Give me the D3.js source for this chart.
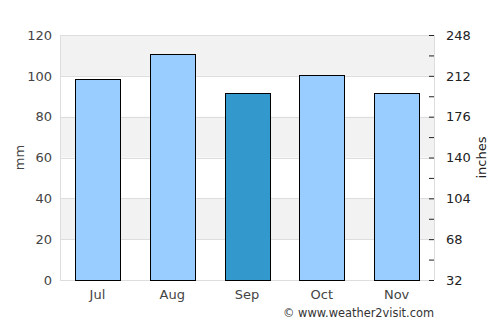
<!DOCTYPE html>
<html>
<head>
<meta charset="utf-8">
<script src="https://cdn.jsdelivr.net/npm/d3@7"></script>
<style>
  body { margin: 0; background: #fff; }
  svg { display: block; }
  svg text { font-family: "DejaVu Sans", sans-serif; }
</style>
</head>
<body>
<svg id="chart" width="500" height="325"></svg>
<script>
// chart data
const months = ["Jul", "Aug", "Sep", "Oct", "Nov"];
const rainfallMm = [98.5, 110.5, 91.5, 100.5, 91.5];
const highlightMonth = "Sep";
const leftTicks = [0, 20, 40, 60, 80, 100, 120];
const rightTicks = [32, 68, 104, 140, 176, 212, 248];
const rightMinorTicks = [50, 86, 122, 158, 194, 230];

const width = 500, height = 325;
const margin = {top: 35, right: 66, bottom: 45, left: 60};
const innerW = width - margin.left - margin.right;
const innerH = height - margin.top - margin.bottom;

const svg = d3.select("#chart");
const g = svg.append("g").attr("transform", `translate(${margin.left},${margin.top})`);

const x = d3.scaleBand().domain(months).range([0, innerW]).paddingInner(0.4).paddingOuter(0.2);
const y = d3.scaleLinear().domain([0, 120]).range([innerH, 0]);
const y2 = d3.scaleLinear().domain([32, 248]).range([innerH, 0]);

// alternating bands
const bands = d3.pairs(leftTicks).filter((_, i) => i % 2 === 1);
g.selectAll("rect.band")
  .data(bands)
  .enter().append("rect")
  .attr("class", "band")
  .attr("x", 0)
  .attr("width", innerW)
  .attr("y", d => y(d[1]))
  .attr("height", d => y(d[0]) - y(d[1]))
  .attr("fill", "#f2f2f2");

// grid lines
g.selectAll("line.grid")
  .data(leftTicks)
  .enter().append("line")
  .attr("class", "grid")
  .attr("x1", 0).attr("x2", innerW)
  .attr("y1", d => Math.round(y(d)) + 0.5)
  .attr("y2", d => Math.round(y(d)) + 0.5)
  .attr("stroke", "#dddddd");

// plot frame sides
g.append("line").attr("x1", 0.5).attr("x2", 0.5).attr("y1", 0).attr("y2", innerH).attr("stroke", "#dddddd");
g.append("line").attr("x1", innerW + 0.5).attr("x2", innerW + 0.5).attr("y1", 0).attr("y2", innerH).attr("stroke", "#dddddd");

// bars
g.selectAll("rect.bar")
  .data(months.map((m, i) => ({month: m, value: rainfallMm[i]})))
  .enter().append("rect")
  .attr("class", "bar")
  .attr("x", d => Math.round(x(d.month)) + 0.5)
  .attr("y", d => Math.round(y(d.value)) + 0.5)
  .attr("width", Math.round(x.bandwidth()))
  .attr("height", d => Math.round(y(0)) - Math.round(y(d.value)))
  .attr("fill", d => d.month === highlightMonth ? "#3399cc" : "#99ccff")
  .attr("stroke", "#000")
  .attr("stroke-width", 1);

// left axis
const yAxis = g.append("g")
  .call(d3.axisLeft(y).tickValues(leftTicks).tickSize(0).tickPadding(8))
  .attr("font-family", null);
yAxis.select(".domain").remove();
yAxis.selectAll("text").attr("font-size", 13).attr("fill", "#444");

// right axis
const y2Axis = g.append("g")
  .attr("transform", `translate(${innerW},0)`)
  .call(d3.axisRight(y2).tickValues(rightTicks).tickSizeInner(-5).tickSizeOuter(0).tickPadding(12))
  .attr("font-family", null);
y2Axis.select(".domain").remove();
y2Axis.selectAll("line").attr("stroke", "#222");
y2Axis.selectAll("text").attr("font-size", 13).attr("fill", "#222");
g.append("g")
  .attr("transform", `translate(${innerW},0)`)
  .call(d3.axisRight(y2).tickValues(rightMinorTicks).tickSizeInner(-5).tickSizeOuter(0).tickFormat(""))
  .call(a => a.select(".domain").remove())
  .selectAll("line").attr("stroke", "#222");

// bottom axis
const xAxis = g.append("g")
  .attr("transform", `translate(0,${innerH})`)
  .call(d3.axisBottom(x).tickSize(0).tickPadding(10))
  .attr("font-family", null);
xAxis.select(".domain").remove();
xAxis.selectAll("text").attr("font-size", 13).attr("fill", "#444");

// axis titles
svg.append("text")
  .attr("transform", `translate(24,${margin.top + innerH / 2}) rotate(-90)`)
  .attr("text-anchor", "middle")
  .attr("font-size", 13)
  .attr("fill", "#444")
  .text("mm");

svg.append("text")
  .attr("transform", `translate(486,${margin.top + innerH / 2}) rotate(-90)`)
  .attr("text-anchor", "middle")
  .attr("font-size", 13)
  .attr("fill", "#222")
  .text("inches");

svg.append("text")
  .attr("x", 434)
  .attr("y", 317)
  .attr("text-anchor", "end")
  .attr("font-size", 11.4)
  .attr("fill", "#333")
  .text("© www.weather2visit.com");
</script>
</body>
</html>
